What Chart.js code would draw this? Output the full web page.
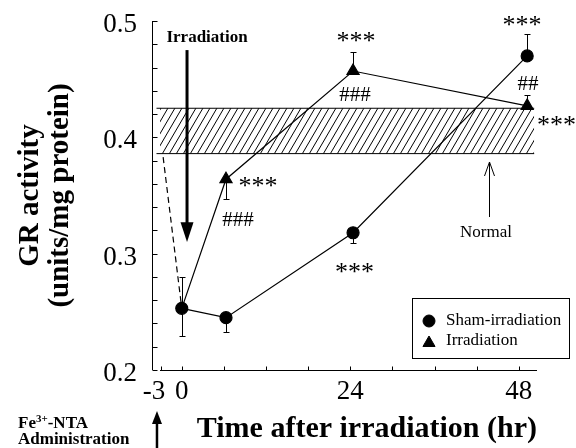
<!DOCTYPE html>
<html>
<head>
<meta charset="utf-8">
<script src="https://cdn.jsdelivr.net/npm/chart.js@4.4.1/dist/chart.umd.min.js"></script>
<style>
  html, body { margin: 0; padding: 0; background: #fff; }
  canvas { display: block; }
</style>
</head>
<body>
<canvas id="grChart" width="576" height="448"></canvas>
<script>
// GR activity after irradiation
const timePoints = [0, 6.3, 24.4, 49.2];          // hr, as plotted
const shamValues = [0.253, 0.245, 0.318, 0.470];
const shamErrUp = [0.027, 0, 0, 0.019];
const shamErrDown = [0.024, 0.012, 0.009, 0];
const irrValues = [0.253, 0.364, 0.457, 0.427];
const irrErrUp = [0, 0, 0.016, 0.009];
const irrErrDown = [0, 0.017, 0, 0];
const preTimes = [-3, 0];                          // Fe3+-NTA given at -3 hr
const preValues = [0.400, 0.253];
const normalRange = [0.386, 0.425];
const normalSpan = [-3.6, 50.2];
const xTickLabels = [-3, 0, 24, 48];
const xMinorTicks = [-3, 0, 6, 12, 18, 24, 30, 36, 42, 48];
const yTickLabels = [0.2, 0.3, 0.4, 0.5];
const yMinorTicks = [0.20, 0.22, 0.24, 0.26, 0.28, 0.30, 0.32, 0.34, 0.36, 0.38, 0.40, 0.42, 0.44, 0.46, 0.48, 0.50];
const seriesNames = ['Sham-irradiation', 'Irradiation'];

// significance marks, placed in data units
const marks = [
  { text: '***', x: 10.86, y: 0.3616 },
  { text: '###', x: 8.01, y: 0.3298 },
  { text: '***', x: 24.82, y: 0.4862 },
  { text: '###', x: 24.68, y: 0.4372 },
  { text: '***', x: 48.46, y: 0.5000 },
  { text: '##', x: 49.32, y: 0.4467 },
  { text: '***', x: 50.6, y: 0.4140, left: true },
  { text: '***', x: 24.6, y: 0.2877 }
];

const serif = "'Liberation Serif', 'Times New Roman', serif";
Chart.defaults.font.family = serif;
Chart.defaults.color = '#000';

// hatch fill for the normal range
function makeHatch() {
  const c = document.createElement('canvas');
  c.width = 7; c.height = 12;
  const g = c.getContext('2d');
  g.fillStyle = '#fff';
  g.fillRect(0, 0, 7, 12);
  g.strokeStyle = '#000';
  g.lineWidth = 1;
  g.beginPath();
  for (let n = -1; n <= 1; n++) {
    g.moveTo(7 * n - 7 / 12, 13);
    g.lineTo(7 * n + 7 + 7 / 12, -1);
  }
  g.stroke();
  return g.createPattern(c, 'repeat');
}

function pts(xs, ys) {
  return xs.map((x, i) => ({ x: x, y: ys[i] }));
}

const extras = {
  id: 'extras',
  afterDatasetsDraw(chart) {
    const ctx = chart.ctx;
    const xs = chart.scales.x, ys = chart.scales.y;
    const area = chart.chartArea;
    const X = v => xs.getPixelForValue(v);
    const Y = v => ys.getPixelForValue(v);
    ctx.save();
    ctx.strokeStyle = '#000';
    ctx.fillStyle = '#000';

    // error bars
    ctx.lineWidth = 1;
    function bars(vals, up, down) {
      timePoints.forEach((t, i) => {
        const px = Math.round(X(t)) + 0.5;
        [[up[i], 1], [down[i], -1]].forEach(([e, s]) => {
          if (!e) return;
          const y0 = Y(vals[i]), y1 = Math.round(Y(vals[i] + s * e)) + 0.5;
          ctx.beginPath();
          ctx.moveTo(px, y0); ctx.lineTo(px, y1);
          ctx.moveTo(px - 3, y1); ctx.lineTo(px + 3, y1);
          ctx.stroke();
        });
      });
    }
    bars(shamValues, shamErrUp, shamErrDown);
    bars(irrValues, irrErrUp, irrErrDown);

    // y axis, detached to the left
    const ax = area.left - 7.5;
    ctx.beginPath();
    ctx.moveTo(ax, Y(0.5)); ctx.lineTo(ax, Y(0.2));
    yMinorTicks.forEach(v => {
      const py = Math.round(Y(v)) + 0.5;
      ctx.moveTo(ax, py); ctx.lineTo(ax + 5, py);
    });
    ctx.stroke();

    // x axis
    const by = Math.round(area.bottom) + 0.5;
    ctx.beginPath();
    ctx.moveTo(area.left, by); ctx.lineTo(area.right, by);
    xMinorTicks.forEach(v => {
      const px = Math.round(X(v)) + 0.5;
      ctx.moveTo(px, by); ctx.lineTo(px, by - 4);
    });
    ctx.stroke();

    // irradiation arrow
    const ix = X(0.75);
    ctx.lineWidth = 3;
    ctx.beginPath();
    ctx.moveTo(ix, Y(0.475)); ctx.lineTo(ix, Y(0.326));
    ctx.stroke();
    ctx.beginPath();
    ctx.moveTo(ix - 6.5, Y(0.327)); ctx.lineTo(ix + 6.5, Y(0.327)); ctx.lineTo(ix, Y(0.310));
    ctx.closePath(); ctx.fill();

    // normal arrow (open head)
    const nx = Math.round(X(43.77)) + 0.5;
    ctx.lineWidth = 1;
    ctx.beginPath();
    ctx.moveTo(nx, Y(0.3315)); ctx.lineTo(nx, Y(0.3788));
    ctx.moveTo(nx - 5, Y(0.3788) + 14); ctx.lineTo(nx, Y(0.3788)); ctx.lineTo(nx + 5, Y(0.3788) + 14);
    ctx.stroke();

    // Fe3+-NTA arrow under -3 hr
    const fx = X(-3.53);
    ctx.lineWidth = 2.5;
    ctx.beginPath();
    ctx.moveTo(fx, chart.height); ctx.lineTo(fx, chart.height - 28);
    ctx.stroke();
    ctx.beginPath();
    ctx.moveTo(fx - 5, chart.height - 24); ctx.lineTo(fx + 5, chart.height - 24); ctx.lineTo(fx, chart.height - 37);
    ctx.closePath(); ctx.fill();

    // significance marks
    ctx.textBaseline = 'alphabetic';
    marks.forEach(m => {
      const star = m.text[0] === '*';
      const size = star ? 26 : 21;
      ctx.font = size + 'px ' + serif;
      ctx.textAlign = m.left ? 'left' : 'center';
      ctx.fillText(m.text, X(m.x), Y(m.y) + (star ? 0.47 : 0.34) * size);
    });

    // labels
    ctx.textBaseline = 'middle';
    ctx.textAlign = 'center';
    ctx.font = 'bold 17px ' + serif;
    ctx.fillText('Irradiation', X(3.6), Y(0.4854));
    ctx.font = '17px ' + serif;
    ctx.fillText('Normal', X(43.34), Y(0.3178));

    // Fe3+-NTA / Administration
    ctx.textAlign = 'left';
    ctx.textBaseline = 'alphabetic';
    let tx = 18;
    ctx.font = 'bold 17px ' + serif;
    ctx.fillText('Fe', tx, 428);
    tx += ctx.measureText('Fe').width;
    ctx.font = 'bold 11px ' + serif;
    ctx.fillText('3+', tx, 422);
    tx += ctx.measureText('3+').width;
    ctx.font = 'bold 17px ' + serif;
    ctx.fillText('-NTA', tx, 428);
    ctx.fillText('Administration', 18, 444);

    // legend box
    ctx.lineWidth = 1;
    ctx.strokeRect(412.5, 298.5, 157, 60);
    Chart.helpers.drawPoint(ctx, { pointStyle: 'circle', radius: 6, rotation: 0, borderWidth: 1 }, 429, 321);
    Chart.helpers.drawPoint(ctx, { pointStyle: 'triangle', radius: 7, rotation: 0, borderWidth: 1 }, 429, 343);
    ctx.font = '17px ' + serif;
    ctx.textBaseline = 'middle';
    ctx.fillText(seriesNames[0], 446, 321);
    ctx.fillText(seriesNames[1], 446, 341);

    ctx.restore();
  }
};

const hatch = makeHatch();

new Chart(document.getElementById('grChart'), {
  type: 'line',
  data: {
    datasets: [
      {
        label: seriesNames[0],
        data: pts(timePoints, shamValues),
        borderColor: '#000', borderWidth: 1.2,
        pointStyle: 'circle', pointRadius: 6,
        pointBackgroundColor: '#000', pointBorderColor: '#000',
        tension: 0, order: 2
      },
      {
        label: seriesNames[1],
        data: pts(timePoints, irrValues),
        borderColor: '#000', borderWidth: 1.2,
        pointStyle: 'triangle', pointRadius: [0, 7, 7, 7],
        pointBackgroundColor: '#000', pointBorderColor: '#000',
        tension: 0, order: 1
      },
      {
        label: 'pre',
        data: pts(preTimes, preValues),
        borderColor: '#000', borderWidth: 1.2, borderDash: [6, 4],
        pointRadius: 0, order: 10, clip: false
      },
      {
        label: 'normal-top',
        data: pts(normalSpan, [normalRange[1], normalRange[1]]),
        borderColor: '#000', borderWidth: 1,
        backgroundColor: hatch, fill: '+1',
        pointRadius: 0, order: 8, clip: false
      },
      {
        label: 'normal-bottom',
        data: pts(normalSpan, [normalRange[0], normalRange[0]]),
        borderColor: '#000', borderWidth: 1,
        pointRadius: 0, order: 7, clip: false
      }
    ]
  },
  options: {
    responsive: false,
    animation: false,
    events: [],
    layout: { padding: { left: 0, right: 39, top: 21, bottom: 0 } },
    plugins: { legend: { display: false }, tooltip: { enabled: false } },
    scales: {
      x: {
        type: 'linear', min: -3.1, max: 50.6,
        afterFit: s => { s.height = 78; s.paddingLeft = 0; s.paddingRight = 0; },
        afterBuildTicks: s => { s.ticks = xTickLabels.map(v => ({ value: v })); },
        grid: { display: false, drawTicks: false },
        border: { display: false },
        ticks: {
          autoSkip: false, maxRotation: 0, padding: 6,
          font: { size: 27, family: serif },
          callback: v => v === -3 ? '-3\u2002' : String(v)
        },
        title: {
          display: true, text: 'Time after irradiation (hr)', align: 'end',
          font: { size: 30, weight: 'bold', family: serif, lineHeight: 1 },
          padding: { top: 0, bottom: 4 }
        }
      },
      y: {
        type: 'linear', min: 0.2, max: 0.5,
        afterFit: s => { s.width = 160; s.paddingTop = 0; s.paddingBottom = 0; },
        afterBuildTicks: s => { s.ticks = yTickLabels.map(v => ({ value: v })); },
        grid: { display: false, drawTicks: false },
        border: { display: false },
        ticks: {
          padding: 23, labelOffset: 4,
          font: { size: 27, family: serif },
          callback: v => v.toFixed(1)
        },
        title: {
          display: true, text: ['GR activity', '(units/mg protein)'],
          font: { size: 29, weight: 'bold', family: serif, lineHeight: 1.03 },
          padding: { top: 16, bottom: 0 }
        }
      }
    }
  },
  plugins: [extras]
});
</script>
</body>
</html>
